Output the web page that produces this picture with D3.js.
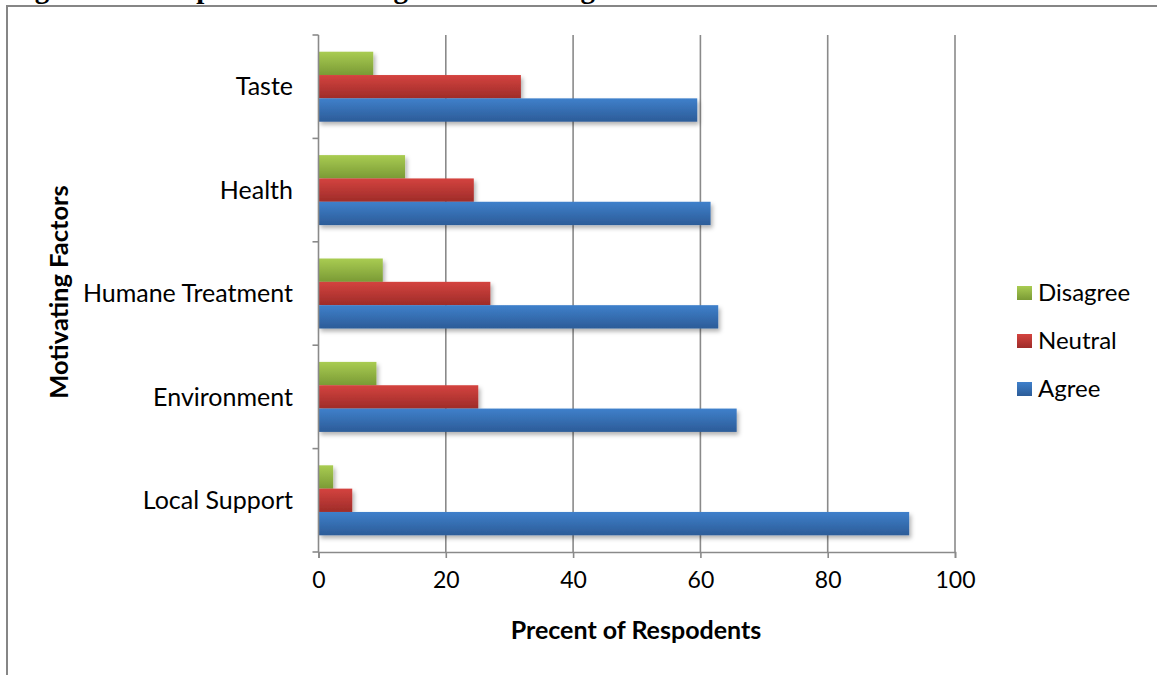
<!DOCTYPE html>
<html>
<head>
<meta charset="utf-8">
<script src="https://cdn.jsdelivr.net/npm/d3@7"></script>
<style>
  html, body { margin: 0; padding: 0; background: #fff; }
  svg { display: block; }
</style>
</head>
<body>
<svg id="chart" width="1157" height="675"></svg>
<script>
const categories = ["Taste", "Health", "Humane Treatment", "Environment", "Local Support"];
const seriesNames = ["Disagree", "Neutral", "Agree"];
const disagree = [8.6, 13.6, 10.1, 9.1, 2.3];
const neutral  = [31.8, 24.4, 27.0, 25.1, 5.3];
const agree    = [59.5, 61.6, 62.8, 65.7, 92.8];
const xTicks = [0, 20, 40, 60, 80, 100];
const xTitle = "Precent of Respodents";
const yTitle = "Motivating Factors";
const docTitle = "Figure 4.1: Respondents' Ratings of Motivating Factors";

const seriesValues = { Disagree: disagree, Neutral: neutral, Agree: agree };
const colors = {
  Disagree: ["#a9cc52", "#7a9a35"],
  Neutral:  ["#d4433f", "#9e2c29"],
  Agree:    ["#3f80cb", "#2c5c98"]
};

const svg = d3.select("#chart");
const font = "Lato, 'Open Sans', sans-serif";

const defs = svg.append("defs");
seriesNames.forEach(s => {
  const g = defs.append("linearGradient").attr("id", "g-" + s)
    .attr("x1", 0).attr("y1", 0).attr("x2", 0).attr("y2", 1);
  g.append("stop").attr("offset", "0%").attr("stop-color", colors[s][0]);
  g.append("stop").attr("offset", "100%").attr("stop-color", colors[s][1]);
});
const f = defs.append("filter").attr("id", "shadow")
  .attr("x", "-5%").attr("y", "-20%").attr("width", "115%").attr("height", "160%");
f.append("feDropShadow").attr("dx", 2).attr("dy", 3).attr("stdDeviation", 2)
  .attr("flood-color", "#000").attr("flood-opacity", 0.3);

// document caption above the chart, cut off by the top edge (only descenders visible)
svg.append("text").attr("x", 9).attr("y", -2)
  .attr("font-family", "'Liberation Serif', serif").attr("font-weight", "bold")
  .attr("font-size", 29).attr("fill", "#000").text(docTitle);

svg.append("rect").attr("x", 7).attr("y", 6).attr("width", 1170).attr("height", 700)
  .attr("fill", "none").attr("stroke", "#868686").attr("stroke-width", 2);

const pLeft = 318.5, pRight = 955, pTop = 35, pBottom = 552;

const x = d3.scaleLinear().domain([0, 100]).range([pLeft, pRight]);
const p = 33.4 / 103.4;
const y = d3.scaleBand().domain(categories).range([pTop, pBottom])
  .paddingInner(p).paddingOuter(p / 2);
const ySub = d3.scaleBand().domain(seriesNames).range([0, y.bandwidth()]);

svg.append("g").selectAll("line").data(xTicks.slice(1)).join("line")
  .attr("x1", d => x(d)).attr("x2", d => x(d))
  .attr("y1", pTop).attr("y2", pBottom)
  .attr("stroke", "#8a8a8a").attr("stroke-width", 1.6);

const barG = svg.append("g").attr("filter", "url(#shadow)");
seriesNames.forEach(s => {
  barG.append("g").selectAll("rect").data(categories).join("rect")
    .attr("x", x(0))
    .attr("y", (c) => y(c) + ySub(s))
    .attr("width", (c, i) => x(seriesValues[s][i]) - x(0))
    .attr("height", ySub.bandwidth())
    .attr("fill", "url(#g-" + s + ")");
});

const xAxis = d3.axisBottom(x).tickValues(xTicks).tickSize(6).tickPadding(14);
const xg = svg.append("g").attr("transform", `translate(0,${pBottom})`).call(xAxis);
xg.select(".domain").attr("stroke", "#8a8a8a").attr("stroke-width", 1.6);
xg.selectAll(".tick line").attr("stroke", "#8a8a8a").attr("stroke-width", 1.6);
xg.selectAll(".tick text").attr("font-family", font).attr("font-size", 23).attr("fill", "#000");

const boundaries = categories.map(c => y(c) - (y.step() - y.bandwidth()) / 2)
  .concat([pBottom]);
svg.append("line").attr("x1", pLeft).attr("x2", pLeft).attr("y1", pTop).attr("y2", pBottom)
  .attr("stroke", "#8a8a8a").attr("stroke-width", 1.6);
svg.append("g").selectAll("line").data(boundaries).join("line")
  .attr("x1", pLeft - 6).attr("x2", pLeft).attr("y1", d => d).attr("y2", d => d)
  .attr("stroke", "#8a8a8a").attr("stroke-width", 1.6);

svg.append("g").selectAll("text").data(categories).join("text")
  .attr("x", 293).attr("y", c => y(c) + y.bandwidth() / 2)
  .attr("dy", "0.35em").attr("text-anchor", "end")
  .attr("font-family", font).attr("font-size", 25).attr("fill", "#000")
  .text(d => d);

svg.append("text").attr("x", 636).attr("y", 639)
  .attr("text-anchor", "middle").attr("font-family", font).attr("font-weight", "bold")
  .attr("font-size", 25).attr("fill", "#000").text(xTitle);
svg.append("text").attr("transform", `translate(68,292) rotate(-90)`)
  .attr("text-anchor", "middle").attr("font-family", font).attr("font-weight", "bold")
  .attr("font-size", 25.5).attr("fill", "#000").text(yTitle);

const legendY = d3.scalePoint().domain(seriesNames).range([293, 389]);
const lg = svg.append("g").selectAll("g").data(seriesNames).join("g")
  .attr("transform", s => `translate(1017,${legendY(s)})`);
lg.append("rect").attr("x", 0).attr("y", -7).attr("width", 15).attr("height", 14)
  .attr("fill", s => "url(#g-" + s + ")");
lg.append("text").attr("x", 21).attr("y", 0).attr("dy", "0.35em")
  .attr("font-family", font).attr("font-size", 24).attr("fill", "#000").text(s => s);
</script>
</body>
</html>
